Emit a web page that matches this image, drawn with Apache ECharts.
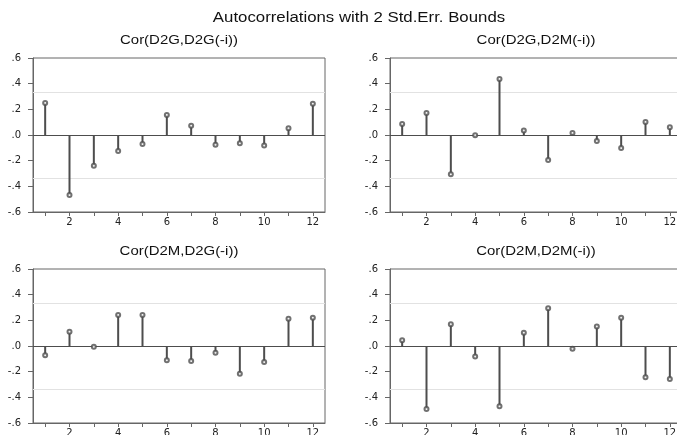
<!DOCTYPE html>
<html>
<head>
<meta charset="utf-8">
<script src="https://cdn.jsdelivr.net/npm/echarts@6/dist/echarts.min.js"></script>
<style>
  html, body { margin: 0; padding: 0; background: #fff; }
  #chart { width: 677px; height: 435px; }
</style>
</head>
<body>
<div id="chart"></div>
<script>
// lags 1..12
const lags = ['1', '2', '3', '4', '5', '6', '7', '8', '9', '10', '11', '12'];
const yTicks = [-0.6, 0.6, 0.2]; // min, max, step
const bound = 0.336; // 2 std.err.

const titleMain = 'Autocorrelations with 2 Std.Err. Bounds';
const panelTitles = ['Cor(D2G,D2G(-i))', 'Cor(D2G,D2M(-i))', 'Cor(D2M,D2G(-i))', 'Cor(D2M,D2M(-i))'];

const corGG = [0.249, -0.468, -0.239, -0.125, -0.070, 0.156, 0.073, -0.075, -0.065, -0.081, 0.052, 0.244];
const corGM = [0.086, 0.171, -0.306, -0.002, 0.436, 0.036, -0.195, 0.016, -0.047, -0.101, 0.101, 0.060];
const corMG = [-0.073, 0.112, -0.005, 0.242, 0.242, -0.112, -0.117, -0.052, -0.216, -0.125, 0.213, 0.221];
const corMM = [0.044, -0.491, 0.169, -0.081, -0.470, 0.104, 0.294, -0.021, 0.151, 0.221, -0.244, -0.257];

const panelData = [corGG, corGM, corMG, corMM];

const fontName = '"Liberation Sans", Arial, sans-serif';
const tickFont = '"DejaVu Sans", sans-serif';
const stemColor = '#4d4d4d';
const boundColor = '#e2e2e2';
const axisColor = '#666';

// grid boxes (px); the right column runs past the window edge like the original
const grids = [
    {left: 33, top: 58, width: 292, height: 154},
    {left: 390, top: 58, width: 292, height: 154},
    {left: 33, top: 269, width: 292, height: 154},
    {left: 390, top: 269, width: 292, height: 154}
];

function fmtY(v) {
    let s = v.toFixed(1);
    return s.replace('0.', '.');
}

// horizontal reference lines (upper bound, lower bound, zero)
function refLines(i) {
    const lineVals = [bound, -bound, 0];
    const lineColors = [boundColor, boundColor, stemColor];
    return {
        type: 'custom',
        xAxisIndex: i,
        yAxisIndex: i,
        data: lineVals.map(v => [0, v]),
        silent: true,
        z: 1,
        renderItem: function (params, api) {
            let cs = params.coordSys;
            let y = Math.round(api.coord([0, api.value(1)])[1]) + 0.5;
            return {
                type: 'line',
                shape: {x1: cs.x, y1: y, x2: cs.x + cs.width, y2: y},
                style: {stroke: lineColors[params.dataIndex], lineWidth: 1}
            };
        }
    };
}

function makeOption() {
    let xAxes = [], yAxes = [], series = [], graphics = [];

    graphics.push({
        type: 'text', x: 359, y: 18, scaleX: 1.2,
        style: {text: titleMain, font: '14px ' + fontName, fill: '#111', align: 'center', verticalAlign: 'middle'}
    });

    grids.forEach((g, i) => {
        graphics.push({
            type: 'text', x: g.left + g.width / 2, y: g.top - 18, scaleX: 1.15,
            style: {text: panelTitles[i], font: '13px ' + fontName, fill: '#111', align: 'center', verticalAlign: 'middle'}
        });

        xAxes.push({
            type: 'category',
            gridIndex: i,
            data: lags,
            boundaryGap: true,
            axisLine: {show: true, onZero: false, lineStyle: {color: axisColor, width: 1}},
            axisTick: {show: true, alignWithLabel: true, interval: 0, length: 4, lineStyle: {color: axisColor}},
            axisLabel: {
                interval: function (idx) { return idx % 2 === 1; },
                color: '#222', fontSize: 10, fontFamily: tickFont, margin: 5
            },
            splitLine: {show: false}
        });

        yAxes.push({
            type: 'value',
            gridIndex: i,
            min: yTicks[0],
            max: yTicks[1],
            interval: yTicks[2],
            axisLine: {show: true, lineStyle: {color: axisColor, width: 1}},
            axisTick: {show: true, length: 5, lineStyle: {color: axisColor}},
            axisLabel: {formatter: fmtY, color: '#222', fontSize: 10, fontFamily: tickFont, margin: 12},
            splitLine: {show: false}
        });

        series.push(refLines(i));

        series.push({
            type: 'bar',
            xAxisIndex: i,
            yAxisIndex: i,
            data: panelData[i],
            barWidth: 2,
            itemStyle: {color: stemColor},
            silent: true,
            z: 3
        });
        series.push({
            type: 'scatter',
            xAxisIndex: i,
            yAxisIndex: i,
            data: panelData[i],
            symbol: 'emptyCircle',
            symbolSize: 4,
            itemStyle: {color: stemColor, borderColor: stemColor, borderWidth: 1},
            z: 5,
            silent: true
        });
    });

    return {
        animation: false,
        backgroundColor: '#fff',
        grid: grids.map(g => Object.assign({
            show: true, borderColor: axisColor, borderWidth: 1, backgroundColor: 'transparent',
            outerBoundsMode: 'none'
        }, g)),
        xAxis: xAxes,
        yAxis: yAxes,
        series: series,
        graphic: graphics
    };
}

let chart = echarts.init(document.getElementById('chart'), null, {renderer: 'canvas'});
chart.setOption(makeOption());
</script>
</body>
</html>
